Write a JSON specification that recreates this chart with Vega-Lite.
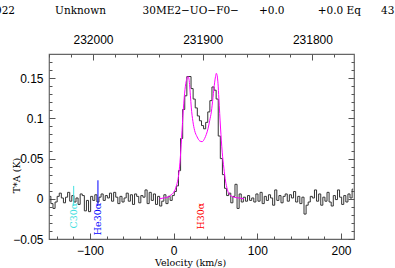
{
  "$schema": "https://vega.github.io/schema/vega-lite/v6.json",
  "width": 305,
  "height": 185,
  "autosize": "none",
  "padding": {"left": 49, "top": 54, "right": 41, "bottom": 29},
  "title": {
    "text": "922\u00a0\u00a0\u00a0\u00a0\u00a0\u00a0\u00a0\u00a0\u00a0\u00a0\u00a0\u00a0Unknown\u00a0\u00a0\u00a0\u00a0\u00a0\u00a0\u00a0\u00a0\u00a0\u00a0\u00a030ME2\u2212UO\u2212F0\u2212\u00a0\u00a0\u00a0\u00a0\u00a0\u00a0+0.0\u00a0\u00a0\u00a0\u00a0\u00a0\u00a0\u00a0\u00a0\u00a0\u00a0+0.0 Eq\u00a0\u00a0\u00a0\u00a0\u00a0\u00a043.",
    "anchor": "start",
    "frame": "group",
    "dx": -54,
    "offset": 17,
    "font": "DejaVu Serif",
    "fontSize": 10.5,
    "fontWeight": "normal",
    "color": "#000"
  },
  "config": {
    "view": {"stroke": "#666", "strokeWidth": 1.2},
    "axis": {
      "domain": false,
      "grid": false,
      "labelFont": "Liberation Sans",
      "labelFontSize": 12,
      "labelColor": "#000",
      "labelOverlap": false,
      "labelBound": false,
      "labelFlush": false,
      "tickColor": "#555",
      "tickWidth": 1
    }
  },
  "datasets": {
    "spec": [
      {"v": -148, "t": 0.003}, {"v": -145.5, "t": -0.006}, {"v": -143, "t": -0.012}, {"v": -140.5, "t": -0.004},
      {"v": -138, "t": 0.003}, {"v": -135.5, "t": 0.007}, {"v": -133, "t": 0.001}, {"v": -130.5, "t": -0.005},
      {"v": -128, "t": 0.002}, {"v": -125.5, "t": 0.008}, {"v": -123, "t": -0.003}, {"v": -120.5, "t": 0.004},
      {"v": -118, "t": -0.004}, {"v": -115.5, "t": 0.001}, {"v": -113, "t": -0.007}, {"v": -110.5, "t": 0.006},
      {"v": -108, "t": 0.004}, {"v": -105.5, "t": -0.015}, {"v": -103, "t": -0.002}, {"v": -100.5, "t": -0.016},
      {"v": -98, "t": 0.003}, {"v": -95.5, "t": -0.002}, {"v": -93, "t": 0.005}, {"v": -90.5, "t": -0.004},
      {"v": -88, "t": 0.002}, {"v": -85.5, "t": 0.006}, {"v": -83, "t": -0.002}, {"v": -80.5, "t": 0.004},
      {"v": -78, "t": 0.001}, {"v": -75.5, "t": 0.007}, {"v": -73, "t": -0.003}, {"v": -70.5, "t": 0.008},
      {"v": -68, "t": 0.002}, {"v": -65.5, "t": -0.006}, {"v": -63, "t": 0.003}, {"v": -60.5, "t": -0.004},
      {"v": -58, "t": 0.001}, {"v": -55.5, "t": 0.007}, {"v": -53, "t": -0.003}, {"v": -50.5, "t": 0.005},
      {"v": -48, "t": -0.007}, {"v": -45.5, "t": 0.006}, {"v": -43, "t": 0.003}, {"v": -40.5, "t": -0.005},
      {"v": -38, "t": 0.004}, {"v": -35.5, "t": 0.002}, {"v": -33, "t": 0.011}, {"v": -30.5, "t": -0.006},
      {"v": -28, "t": 0.008}, {"v": -25.5, "t": -0.002}, {"v": -23, "t": 0.006}, {"v": -20.5, "t": -0.007},
      {"v": -18, "t": 0.003}, {"v": -15.5, "t": -0.009}, {"v": -13, "t": -0.003}, {"v": -10.5, "t": 0.005},
      {"v": -8, "t": -0.006}, {"v": -5.5, "t": 0.003}, {"v": -3, "t": -0.002},
      {"v": -0.5, "t": 0.004}, {"v": 2, "t": 0.009}, {"v": 4.5, "t": 0.016}, {"v": 7, "t": 0.035},
      {"v": 9.5, "t": 0.075}, {"v": 12, "t": 0.111}, {"v": 14.5, "t": 0.128}, {"v": 17, "t": 0.152},
      {"v": 19.5, "t": 0.152}, {"v": 22, "t": 0.137}, {"v": 24.5, "t": 0.124}, {"v": 27, "t": 0.113},
      {"v": 29.5, "t": 0.103}, {"v": 32, "t": 0.097}, {"v": 34.5, "t": 0.091}, {"v": 37, "t": 0.087},
      {"v": 39.5, "t": 0.095}, {"v": 42, "t": 0.108}, {"v": 44.5, "t": 0.122}, {"v": 47, "t": 0.139},
      {"v": 49.5, "t": 0.135}, {"v": 52, "t": 0.124}, {"v": 54.5, "t": 0.078}, {"v": 57, "t": 0.05},
      {"v": 59.5, "t": 0.03}, {"v": 62, "t": 0.013}, {"v": 64.5, "t": 0.004}, {"v": 67, "t": 0.007},
      {"v": 69.5, "t": -0.005},
      {"v": 72, "t": 0.003}, {"v": 74.5, "t": 0.018}, {"v": 77, "t": -0.012}, {"v": 79.5, "t": 0.006},
      {"v": 82, "t": -0.004}, {"v": 84.5, "t": 0.002}, {"v": 87, "t": -0.003}, {"v": 89.5, "t": 0.004},
      {"v": 92, "t": -0.002}, {"v": 94.5, "t": 0.001}, {"v": 97, "t": -0.004}, {"v": 99.5, "t": 0.006},
      {"v": 102, "t": -0.003}, {"v": 104.5, "t": 0.008}, {"v": 107, "t": -0.006}, {"v": 109.5, "t": 0.003},
      {"v": 112, "t": -0.002}, {"v": 114.5, "t": 0.005}, {"v": 117, "t": 0.001}, {"v": 119.5, "t": -0.008},
      {"v": 122, "t": 0.011}, {"v": 124.5, "t": -0.002}, {"v": 127, "t": 0.004}, {"v": 129.5, "t": -0.005},
      {"v": 132, "t": 0.003}, {"v": 134.5, "t": 0.006}, {"v": 137, "t": -0.003}, {"v": 139.5, "t": 0.005},
      {"v": 142, "t": 0.001}, {"v": 144.5, "t": 0.009}, {"v": 147, "t": -0.004}, {"v": 149.5, "t": 0.003},
      {"v": 152, "t": -0.006}, {"v": 154.5, "t": 0.002}, {"v": 157, "t": -0.019}, {"v": 159.5, "t": -0.008},
      {"v": 162, "t": -0.004}, {"v": 164.5, "t": 0.003}, {"v": 167, "t": 0.001}, {"v": 169.5, "t": 0.011},
      {"v": 172, "t": -0.003}, {"v": 174.5, "t": 0.006}, {"v": 177, "t": -0.008}, {"v": 179.5, "t": 0.002},
      {"v": 182, "t": -0.003}, {"v": 184.5, "t": 0.008}, {"v": 187, "t": -0.004}, {"v": 189.5, "t": -0.009},
      {"v": 192, "t": 0.004}, {"v": 194.5, "t": -0.001}, {"v": 197, "t": 0.011}, {"v": 199.5, "t": 0.002},
      {"v": 202, "t": -0.007}, {"v": 204.5, "t": 0.004}, {"v": 207, "t": -0.004}, {"v": 209.5, "t": 0.006},
      {"v": 212, "t": 0.001}, {"v": 214.5, "t": 0.012}
    ],
    "fit": [
      {"v": -17, "t": 0.0}, {"v": -12, "t": 0.001}, {"v": -7, "t": 0.002}, {"v": -3, "t": 0.005},
      {"v": 0, "t": 0.008}, {"v": 2, "t": 0.012}, {"v": 4, "t": 0.019}, {"v": 6, "t": 0.03},
      {"v": 8, "t": 0.052}, {"v": 10, "t": 0.085}, {"v": 12, "t": 0.118}, {"v": 14, "t": 0.14},
      {"v": 16, "t": 0.15}, {"v": 17, "t": 0.152}, {"v": 18, "t": 0.15}, {"v": 19, "t": 0.142},
      {"v": 20, "t": 0.128}, {"v": 21, "t": 0.114}, {"v": 23, "t": 0.096}, {"v": 25, "t": 0.085},
      {"v": 28, "t": 0.077}, {"v": 31, "t": 0.072}, {"v": 34, "t": 0.071}, {"v": 37, "t": 0.075},
      {"v": 39, "t": 0.08}, {"v": 41, "t": 0.087}, {"v": 43, "t": 0.097}, {"v": 45, "t": 0.108},
      {"v": 47, "t": 0.126}, {"v": 48, "t": 0.136}, {"v": 49, "t": 0.145}, {"v": 50, "t": 0.152},
      {"v": 51, "t": 0.156}, {"v": 52, "t": 0.153}, {"v": 53, "t": 0.143}, {"v": 54, "t": 0.125},
      {"v": 56, "t": 0.088}, {"v": 58, "t": 0.058}, {"v": 60, "t": 0.038}, {"v": 62, "t": 0.022},
      {"v": 64, "t": 0.012}, {"v": 67, "t": 0.005}, {"v": 72, "t": 0.002}, {"v": 78, "t": 0.001},
      {"v": 84, "t": 0.0}
    ],
    "lines": [
      {"name": "C30\u03b1", "v": -119.5, "top": 0.016},
      {"name": "He30\u03b1", "v": -90.5, "top": 0.023}
    ],
    "labels": [
      {"name": "C30\u03b1", "v": -119.5},
      {"name": "He30\u03b1", "v": -90.5},
      {"name": "H30\u03b1", "v": 33}
    ],
    "ax": [
      {"v": 0, "f": 231900, "t": 0}
    ]
  },
  "layer": [
    {
      "layer": [
        {
          "data": {"name": "spec"},
          "mark": {"type": "line", "interpolate": "step", "color": "#333", "strokeWidth": 1, "clip": true},
          "encoding": {
            "x": {
              "field": "v", "type": "quantitative",
              "scale": {"domain": [-149, 215.5], "nice": false, "zero": false},
              "axis": {
                "orient": "bottom",
                "values": [-100, 0, 100, 200],
                "format": "d",
                "tickSize": -6,
                "labelPadding": 12.5,
                "title": "Velocity (km/s)",
                "titleFont": "DejaVu Serif",
                "titleFontSize": 9.5,
                "titleFontWeight": "normal",
                "titleColor": "#000",
                "titleX": 141,
                "titleY": 26.5,
                "titleAlign": "center",
                "titleBaseline": "alphabetic"
              }
            },
            "y": {
              "field": "t", "type": "quantitative",
              "scale": {"domain": [-0.05, 0.18], "nice": false, "zero": false},
              "axis": {
                "orient": "left",
                "values": [-0.05, 0, 0.05, 0.1, 0.15],
                "format": "~g",
                "tickSize": -6,
                "labelPadding": 12,
                "title": "T*A (K)",
                "titleFont": "DejaVu Serif",
                "titleFontSize": 9.5,
                "titleFontWeight": "normal",
                "titleColor": "#000",
                "titleAngle": 270,
                "titleX": -33,
                "titleY": 121,
                "titleAlign": "center",
                "titleBaseline": "middle"
              }
            }
          }
        },
        {
          "data": {"name": "fit"},
          "mark": {"type": "line", "interpolate": "monotone", "color": "#ff00ff", "strokeWidth": 1, "clip": true},
          "encoding": {
            "x": {"field": "v", "type": "quantitative"},
            "y": {"field": "t", "type": "quantitative"}
          }
        },
        {
          "data": {"name": "lines"},
          "mark": {"type": "rule", "strokeWidth": 1},
          "encoding": {
            "x": {"field": "v", "type": "quantitative"},
            "y": {"field": "top", "type": "quantitative"},
            "y2": {"datum": -0.007},
            "color": {
              "field": "name", "type": "nominal",
              "scale": {"domain": ["C30\u03b1", "He30\u03b1", "H30\u03b1"], "range": ["#40e0e0", "#0000ff", "#ff0000"]},
              "legend": null
            }
          }
        },
        {
          "data": {"name": "labels"},
          "mark": {"type": "text", "angle": 270, "align": "right", "baseline": "middle", "font": "DejaVu Serif", "fontSize": 9.5},
          "encoding": {
            "x": {"field": "v", "type": "quantitative"},
            "y": {"datum": -0.005, "type": "quantitative"},
            "text": {"field": "name", "type": "nominal"},
            "color": {"field": "name", "type": "nominal", "legend": null}
          }
        }
      ]
    },
    {
      "data": {"name": "ax"},
      "mark": {"type": "point", "opacity": 0},
      "encoding": {
        "x": {
          "field": "f", "type": "quantitative",
          "scale": {"domain": [231762.1, 232040.1], "reverse": true, "nice": false, "zero": false},
          "axis": {
            "orient": "top",
            "format": "d",
            "values": [231800, 231900, 232000],
            "tickSize": -6,
            "labelPadding": 14,
            "title": null
          }
        },
        "y": {
          "field": "t", "type": "quantitative",
          "scale": {"domain": [-0.05, 0.18], "nice": false, "zero": false},
          "axis": {
            "orient": "right",
            "values": [-0.05, 0, 0.05, 0.1, 0.15],
            "labels": false,
            "tickSize": -6,
            "title": null
          }
        }
      }
    },
    {
      "data": {"name": "ax"},
      "mark": {"type": "point", "opacity": 0},
      "encoding": {
        "x": {
          "field": "v", "type": "quantitative",
          "scale": {"domain": [-149, 215.5], "nice": false, "zero": false},
          "axis": {
            "orient": "bottom",
            "values": [-140, -120, -80, -60, -40, -20, 20, 40, 60, 80, 120, 140, 160, 180],
            "labels": false,
            "tickSize": -3,
            "title": null
          }
        },
        "y": {
          "field": "t", "type": "quantitative",
          "scale": {"domain": [-0.05, 0.18], "nice": false, "zero": false},
          "axis": {
            "orient": "left",
            "values": [-0.04, -0.03, -0.02, -0.01, 0.01, 0.02, 0.03, 0.04, 0.06, 0.07, 0.08, 0.09, 0.11, 0.12, 0.13, 0.14, 0.16, 0.17],
            "labels": false,
            "tickSize": -3,
            "title": null
          }
        }
      }
    },
    {
      "data": {"name": "ax"},
      "mark": {"type": "point", "opacity": 0},
      "encoding": {
        "x": {
          "field": "f", "type": "quantitative",
          "scale": {"domain": [231762.1, 232040.1], "reverse": true, "nice": false, "zero": false},
          "axis": {
            "orient": "top",
            "values": [231780, 231820, 231840, 231860, 231880, 231920, 231940, 231960, 231980, 232020, 232040],
            "labels": false,
            "tickSize": -3,
            "title": null
          }
        },
        "y": {
          "field": "t", "type": "quantitative",
          "scale": {"domain": [-0.05, 0.18], "nice": false, "zero": false},
          "axis": {
            "orient": "right",
            "values": [-0.04, -0.03, -0.02, -0.01, 0.01, 0.02, 0.03, 0.04, 0.06, 0.07, 0.08, 0.09, 0.11, 0.12, 0.13, 0.14, 0.16, 0.17],
            "labels": false,
            "tickSize": -3,
            "title": null
          }
        }
      }
    }
  ],
  "resolve": {"scale": {"x": "independent", "y": "independent"}}
}
